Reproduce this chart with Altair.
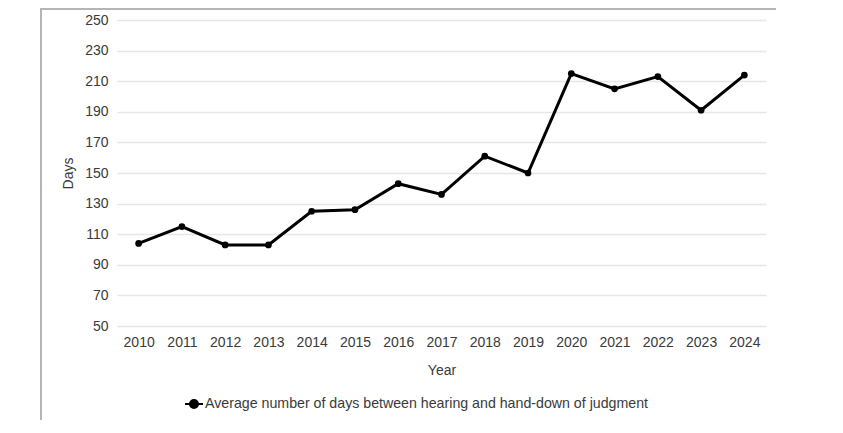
import altair as alt
import pandas as pd

years = ["2010", "2011", "2012", "2013", "2014", "2015", "2016", "2017",
         "2018", "2019", "2020", "2021", "2022", "2023", "2024"]
days = [104, 115, 103, 103, 125, 126, 143, 136, 161, 150, 215, 205, 213, 191, 214]
y_ticks = [50, 70, 90, 110, 130, 150, 170, 190, 210, 230, 250]
series_name = "Average number of days between hearing and hand-down of judgment"

df = pd.DataFrame({"Year": years, "Days": days, "series": [series_name] * len(years)})

FONT = "Liberation Sans"
TXT = "#3a3a3a"

x_enc = alt.X("Year:O", scale=alt.Scale(type="point", padding=0.5),
              axis=alt.Axis(title="Year", labelAngle=0, ticks=False, domain=False,
                            grid=False, labelPadding=9, titlePadding=14,
                            labelFontSize=14, titleFontSize=14, labelColor=TXT,
                            titleColor=TXT, titleFontWeight="normal", labelFont=FONT,
                            titleFont=FONT))
y_enc = alt.Y("Days:Q", scale=alt.Scale(domain=[50, 250], nice=False, zero=False),
              axis=alt.Axis(title="Days", values=y_ticks, ticks=False, domain=False,
                            grid=True, gridColor="#e6e6e6", gridWidth=1.5,
                            labelPadding=9, titlePadding=9, labelFontSize=14,
                            titleFontSize=14, labelColor=TXT, titleColor=TXT,
                            titleFontWeight="normal", labelFont=FONT, titleFont=FONT))

color_enc = alt.Color("series:N", scale=alt.Scale(range=["#000000"]),
                      legend=alt.Legend(title=None, orient="none", legendX=67, legendY=374,
                                        symbolType="M-1,0L1,0M0.45,0A0.45,0.45,0,1,1,-0.45,0A0.45,0.45,0,1,1,0.45,0Z",
                                        symbolSize=324, symbolStrokeWidth=2,
                                        symbolFillColor="#000000", symbolStrokeColor="#000000",
                                        labelFontSize=14.2, labelColor=TXT, labelFont=FONT,
                                        labelLimit=700, padding=0, symbolOffset=0,
                                        labelOffset=1))

line = alt.Chart(df).mark_line(strokeWidth=3, color="#000000").encode(
    x=x_enc, y=y_enc, color=color_enc)
pts = alt.Chart(df).mark_point(filled=True, size=45, opacity=1, color="#000000").encode(
    x=x_enc, y=y_enc, color=alt.Color("series:N", legend=None, scale=alt.Scale(range=["#000000"])))

border_df = pd.DataFrame({"k": ["border"]})
left_border = alt.Chart(border_df).mark_rule(color="#b5b5b5", strokeWidth=2).encode(
    x=alt.value(-76), y=alt.value(-11), y2=alt.value(400))
top_border = alt.Chart(border_df).mark_rule(color="#b5b5b5", strokeWidth=2).encode(
    x=alt.value(-77), x2=alt.value(659), y=alt.value(-11))

chart = alt.layer(line, pts, left_border, top_border).properties(
    width=649, height=306,
    autosize=alt.AutoSizeParams(type="none"),
    padding={"left": 109, "top": 12, "right": 60, "bottom": 100},
).configure_view(stroke=None)

chart.save("out.html", embed_options={"renderer": "svg", "actions": False})
